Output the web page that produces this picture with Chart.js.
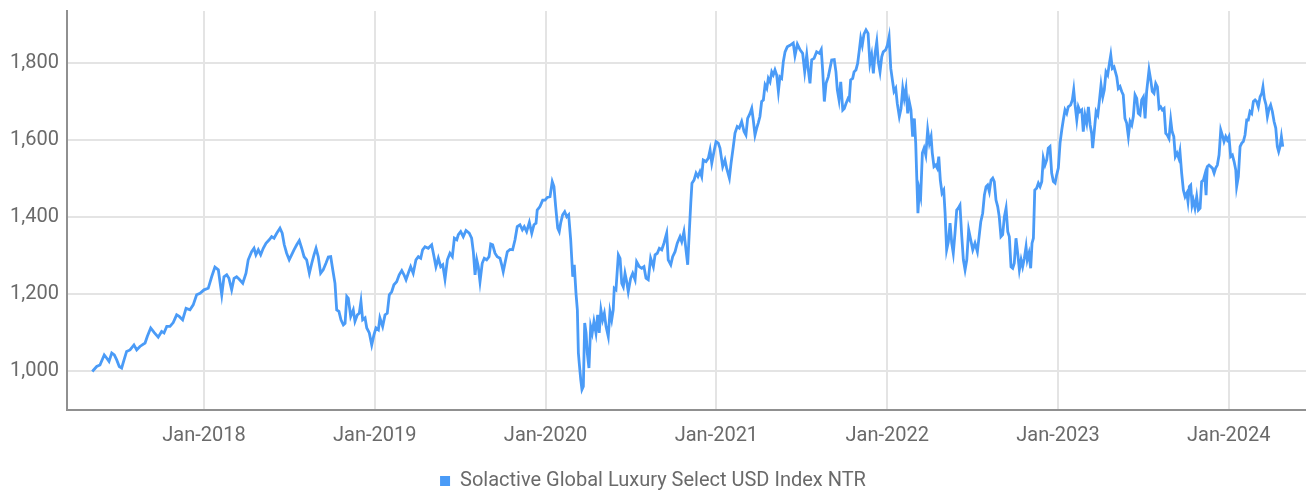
<!DOCTYPE html>
<html>
<head>
<meta charset="utf-8">
<script src="https://cdn.jsdelivr.net/npm/chart.js@4.4.1/dist/chart.umd.min.js"></script>
<style>
  html, body { margin: 0; padding: 0; background: #fff; }
</style>
</head>
<body>
<canvas id="chart" width="1306" height="495"></canvas>
<script>
const dates2017 = [2017.346,2017.372,2017.391,2017.416,2017.430,2017.444,2017.460,2017.475,2017.489,2017.504,
  2017.518,2017.532,2017.547,2017.567,2017.590,2017.606,2017.625,2017.655,2017.668,2017.688,
  2017.709,2017.732,2017.752,2017.766,2017.782,2017.801,2017.820,2017.840,2017.855,2017.875,
  2017.895,2017.918,2017.937,2017.957,2017.977];
const index2017 = [1000,1013,1017,1043,1035,1026,1048,1043,1030,1013,
  1009,1030,1052,1056,1069,1056,1065,1074,1091,1113,
  1101,1089,1104,1100,1117,1117,1127,1147,1143,1134,
  1164,1160,1173,1199,1203];

const dates2018 = [2018.000,2018.025,2018.045,2018.064,2018.084,2018.104,2018.117,2018.133,2018.146,2018.162,
  2018.176,2018.191,2018.205,2018.227,2018.246,2018.259,2018.279,2018.293,2018.304,2018.318,
  2018.332,2018.347,2018.363,2018.382,2018.396,2018.410,2018.426,2018.445,2018.458,2018.470,
  2018.484,2018.499,2018.513,2018.527,2018.543,2018.558,2018.572,2018.586,2018.601,2018.617,
  2018.631,2018.644,2018.656,2018.669,2018.683,2018.698,2018.714,2018.728,2018.742,2018.754,
  2018.767,2018.777,2018.790,2018.802,2018.816,2018.826,2018.836,2018.845,2018.859,2018.874,
  2018.884,2018.898,2018.909,2018.919,2018.929,2018.943,2018.953,2018.968,2018.982,2018.995];
const index2018 = [1212,1216,1246,1271,1264,1199,1246,1251,1242,1212,
  1242,1246,1240,1229,1255,1290,1311,1320,1303,1316,
  1303,1320,1333,1342,1350,1346,1359,1372,1359,1329,
  1307,1290,1303,1316,1329,1340,1320,1298,1290,1255,
  1281,1303,1320,1298,1255,1264,1281,1297,1298,1264,
  1229,1160,1156,1134,1121,1125,1195,1190,1143,1160,
  1130,1147,1151,1182,1134,1139,1113,1100,1069,1095];

const dates2019 = [2019.007,2019.021,2019.030,2019.046,2019.060,2019.073,2019.085,2019.099,2019.112,2019.128,
  2019.143,2019.158,2019.171,2019.183,2019.196,2019.210,2019.225,2019.241,2019.255,2019.269,
  2019.280,2019.294,2019.313,2019.333,2019.347,2019.358,2019.372,2019.386,2019.398,2019.411,
  2019.425,2019.440,2019.454,2019.466,2019.480,2019.489,2019.503,2019.518,2019.534,2019.553,
  2019.567,2019.577,2019.587,2019.597,2019.606,2019.616,2019.629,2019.641,2019.655,2019.669,
  2019.679,2019.690,2019.704,2019.717,2019.733,2019.743,2019.752,2019.762,2019.776,2019.792,
  2019.807,2019.821,2019.834,2019.850,2019.864,2019.875,2019.889,2019.905,2019.919,2019.932,
  2019.944,2019.951,2019.967,2019.983,2019.997];
const index2019 = [1113,1108,1139,1117,1147,1151,1199,1207,1225,1233,
  1251,1262,1251,1238,1255,1272,1255,1290,1298,1294,
  1316,1324,1320,1329,1298,1272,1294,1272,1277,1240,
  1290,1307,1298,1346,1342,1355,1363,1350,1366,1359,
  1346,1311,1251,1290,1272,1233,1281,1294,1290,1298,
  1331,1329,1307,1298,1294,1277,1259,1281,1311,1317,
  1316,1342,1376,1381,1368,1376,1363,1387,1359,1381,
  1385,1419,1428,1445,1445];

const dates2020 = [2020.010,2020.026,2020.039,2020.049,2020.059,2020.071,2020.080,2020.088,2020.100,2020.112,
  2020.124,2020.135,2020.147,2020.159,2020.168,2020.178,2020.186,2020.192,2020.197,2020.206,
  2020.213,2020.221,2020.229,2020.237,2020.244,2020.254,2020.264,2020.273,2020.283,2020.295,
  2020.305,2020.314,2020.324,2020.334,2020.344,2020.354,2020.367,2020.377,2020.387,2020.396,
  2020.402,2020.412,2020.426,2020.436,2020.446,2020.455,2020.465,2020.475,2020.484,2020.498,
  2020.510,2020.524,2020.533,2020.549,2020.563,2020.576,2020.588,2020.601,2020.615,2020.631,
  2020.641,2020.654,2020.666,2020.680,2020.693,2020.709,2020.718,2020.733,2020.744,2020.758,
  2020.771,2020.787,2020.797,2020.810,2020.822,2020.832,2020.841,2020.850,2020.857,2020.869,
  2020.881,2020.892,2020.904,2020.914,2020.923,2020.939,2020.953,2020.963,2020.973,2020.986,
  2020.998];
const index2020 = [1452,1454,1493,1480,1428,1372,1363,1385,1407,1415,
  1402,1407,1342,1246,1277,1203,1160,1048,1022,978,
  953,961,1126,1100,1048,1009,1117,1100,1130,1100,
  1147,1100,1160,1134,1151,1117,1091,1156,1134,1160,
  1216,1212,1303,1294,1229,1220,1255,1233,1207,1242,
  1255,1238,1285,1272,1268,1272,1242,1238,1294,1272,
  1303,1307,1320,1316,1333,1359,1290,1277,1298,1311,
  1333,1350,1337,1363,1316,1277,1359,1437,1489,1497,
  1515,1506,1519,1506,1549,1545,1554,1575,1541,1571,
  1597];

const dates2021 = [2021.011,2021.021,2021.037,2021.050,2021.060,2021.076,2021.086,2021.099,2021.109,2021.122,
  2021.134,2021.148,2021.162,2021.173,2021.183,2021.197,2021.207,2021.216,2021.226,2021.236,
  2021.245,2021.255,2021.265,2021.275,2021.285,2021.295,2021.304,2021.314,2021.324,2021.333,
  2021.343,2021.353,2021.363,2021.372,2021.382,2021.392,2021.402,2021.415,2021.431,2021.450,
  2021.460,2021.474,2021.490,2021.505,2021.517,2021.529,2021.538,2021.548,2021.558,2021.572,
  2021.587,2021.603,2021.614,2021.622,2021.632,2021.642,2021.655,2021.665,2021.675,2021.690,
  2021.700,2021.708,2021.718,2021.728,2021.740,2021.749,2021.759,2021.771,2021.778,2021.786,
  2021.798,2021.806,2021.817,2021.827,2021.837,2021.845,2021.854,2021.864,2021.876,2021.888,
  2021.899,2021.909,2021.919,2021.929,2021.939,2021.948,2021.958,2021.968,2021.977,2021.991];
const index2021 = [1593,1580,1532,1549,1528,1502,1541,1584,1619,1636,
  1632,1649,1623,1614,1657,1670,1683,1653,1614,1632,
  1645,1662,1701,1705,1744,1735,1761,1752,1778,1770,
  1783,1770,1727,1765,1761,1805,1830,1843,1847,1853,
  1820,1850,1835,1826,1778,1822,1783,1748,1809,1813,
  1830,1826,1836,1783,1701,1748,1765,1787,1809,1810,
  1778,1731,1705,1752,1679,1683,1696,1709,1705,1757,
  1761,1778,1783,1800,1835,1865,1847,1876,1887,1878,
  1800,1822,1774,1826,1856,1804,1778,1817,1830,1835];

const dates2022 = [2022.001,2022.011,2022.021,2022.032,2022.040,2022.050,2022.059,2022.071,2022.081,2022.091,
  2022.100,2022.110,2022.120,2022.129,2022.139,2022.149,2022.159,2022.167,2022.173,2022.180,
  2022.188,2022.196,2022.206,2022.216,2022.226,2022.237,2022.247,2022.257,2022.264,2022.274,
  2022.284,2022.293,2022.302,2022.311,2022.321,2022.331,2022.339,2022.348,2022.358,2022.368,
  2022.378,2022.387,2022.397,2022.407,2022.416,2022.426,2022.436,2022.446,2022.456,2022.466,
  2022.477,2022.489,2022.501,2022.514,2022.528,2022.548,2022.559,2022.569,2022.579,2022.588,
  2022.598,2022.608,2022.618,2022.627,2022.637,2022.647,2022.656,2022.666,2022.676,2022.686,
  2022.696,2022.706,2022.715,2022.725,2022.735,2022.744,2022.754,2022.764,2022.774,2022.784,
  2022.793,2022.803,2022.813,2022.820,2022.830,2022.840,2022.848,2022.856,2022.864,2022.875,
  2022.885,2022.895,2022.905,2022.914,2022.924,2022.934,2022.943,2022.953,2022.963,2022.973,
  2022.983,2022.992];
const index2022 = [1847,1869,1787,1752,1727,1735,1696,1662,1683,1735,
  1709,1735,1670,1701,1679,1610,1657,1593,1506,1411,
  1471,1454,1567,1580,1562,1627,1593,1610,1567,1532,
  1536,1528,1558,1497,1463,1471,1411,1316,1337,1385,
  1333,1307,1359,1419,1424,1432,1355,1290,1264,1290,
  1368,1342,1316,1333,1311,1389,1411,1458,1480,1484,
  1467,1497,1502,1493,1445,1428,1402,1350,1355,1402,
  1424,1363,1350,1272,1268,1281,1346,1307,1264,1290,
  1272,1294,1324,1290,1307,1268,1333,1346,1471,1476,
  1489,1480,1493,1554,1536,1549,1580,1584,1515,1493,
  1489,1510];

const dates2023 = [2023.002,2023.012,2023.022,2023.031,2023.041,2023.051,2023.060,2023.074,2023.084,2023.092,
  2023.100,2023.110,2023.119,2023.129,2023.139,2023.148,2023.158,2023.168,2023.178,2023.188,
  2023.197,2023.203,2023.213,2023.223,2023.233,2023.242,2023.252,2023.262,2023.271,2023.281,
  2023.291,2023.301,2023.309,2023.318,2023.328,2023.344,2023.353,2023.363,2023.373,2023.382,
  2023.392,2023.402,2023.412,2023.422,2023.432,2023.441,2023.451,2023.461,2023.470,2023.480,
  2023.490,2023.500,2023.510,2023.519,2023.533,2023.543,2023.552,2023.562,2023.572,2023.582,
  2023.592,2023.601,2023.611,2023.621,2023.631,2023.640,2023.650,2023.660,2023.668,2023.678,
  2023.687,2023.697,2023.707,2023.714,2023.724,2023.734,2023.744,2023.754,2023.761,2023.769,
  2023.777,2023.785,2023.792,2023.802,2023.812,2023.822,2023.832,2023.841,2023.851,2023.859,
  2023.867,2023.874,2023.884,2023.894,2023.904,2023.914,2023.923,2023.933,2023.943,2023.953,
  2023.962,2023.972,2023.982,2023.991];
const index2023 = [1528,1593,1627,1653,1679,1670,1687,1692,1705,1731,
  1692,1653,1687,1675,1679,1623,1666,1645,1687,1640,
  1618,1580,1627,1675,1666,1701,1744,1713,1731,1778,
  1770,1800,1822,1787,1791,1765,1735,1740,1727,1718,
  1657,1645,1610,1649,1640,1662,1718,1709,1670,1666,
  1705,1713,1657,1727,1783,1757,1727,1722,1748,1739,
  1683,1687,1679,1683,1618,1614,1605,1653,1623,1610,
  1558,1567,1554,1571,1515,1471,1454,1463,1441,1480,
  1484,1432,1445,1424,1454,1419,1424,1493,1497,1510,
  1458,1532,1536,1532,1528,1515,1528,1536,1562,1627,
  1614,1597,1610,1601];

const dates2024 = [2024.001,2024.011,2024.021,2024.031,2024.041,2024.046,2024.056,2024.066,2024.076,2024.085,
  2024.095,2024.105,2024.114,2024.124,2024.134,2024.144,2024.154,2024.163,2024.173,2024.183,
  2024.193,2024.200,2024.208,2024.218,2024.226,2024.236,2024.245,2024.255,2024.265,2024.275,
  2024.284,2024.292,2024.300,2024.308,2024.316];
const index2024 = [1610,1558,1562,1545,1523,1480,1506,1584,1593,1597,
  1614,1653,1653,1675,1670,1701,1705,1701,1687,1713,
  1722,1739,1709,1692,1662,1683,1692,1675,1649,1632,
  1584,1571,1584,1610,1584];

const yearTicks = [2018, 2019, 2020, 2021, 2022, 2023, 2024];
const valueTicks = [1000, 1200, 1400, 1600, 1800];
const seriesName = 'Solactive Global Luxury Select USD Index NTR';

const allDates = [].concat(dates2017, dates2018, dates2019, dates2020, dates2021, dates2022, dates2023, dates2024);
const allValues = [].concat(index2017, index2018, index2019, index2020, index2021, index2022, index2023, index2024);
const points = allDates.map((d, i) => ({ x: d, y: allValues[i] }));

const LINE_BLUE = '#4a9bf7';
const TEXT_GREY = '#6a6a6a';
const GRID_GREY = '#e4e4e4';
const AXIS_GREY = '#909090';

Chart.defaults.font.family = "Roboto, 'Liberation Sans', sans-serif";
Chart.defaults.font.size = 20;
Chart.defaults.color = TEXT_GREY;

// no extra room for the outer tick labels: the plot area is placed by hand
function noEdgePadding(scale) {
    scale.paddingTop = 0;
    scale.paddingBottom = 0;
    scale.paddingLeft = 0;
    scale.paddingRight = 0;
}

new Chart(document.getElementById('chart'), {
    type: 'line',
    data: {
        datasets: [{
            label: seriesName,
            data: points,
            borderColor: LINE_BLUE,
            backgroundColor: LINE_BLUE,
            borderWidth: 2.8,
            pointRadius: 0,
            tension: 0,
            fill: false
        }]
    },
    options: {
        responsive: false,
        animation: false,
        layout: { padding: { top: 11, right: 0, bottom: -6, left: 0 } },
        plugins: {
            tooltip: { enabled: false },
            legend: {
                position: 'bottom',
                labels: {
                    boxWidth: 10,
                    boxHeight: 10,
                    padding: 10,
                    color: TEXT_GREY,
                    generateLabels: function(chart) {
                        const items = Chart.defaults.plugins.legend.labels.generateLabels(chart);
                        return items.map(it => Object.assign(it, { lineWidth: 0 }));
                    }
                }
            }
        },
        scales: {
            x: {
                type: 'linear',
                min: 2017.198,
                max: 2024.452,
                afterBuildTicks: function(scale) {
                    scale.ticks = yearTicks.map(v => ({ value: v }));
                },
                afterFit: function(scale) {
                    scale.height = 51;
                    noEdgePadding(scale);
                },
                ticks: {
                    padding: 14,
                    maxRotation: 0,
                    autoSkip: false,
                    callback: function(value) { return 'Jan-' + value; }
                },
                grid: { color: GRID_GREY, lineWidth: 2, drawTicks: false },
                border: { color: AXIS_GREY, width: 2 }
            },
            y: {
                min: 900,
                max: 1936,
                afterBuildTicks: function(scale) {
                    scale.ticks = valueTicks.map(v => ({ value: v }));
                },
                afterFit: function(scale) {
                    scale.width = 67;
                    noEdgePadding(scale);
                },
                ticks: {
                    padding: 8,
                    callback: function(value) { return value.toLocaleString('en-US'); }
                },
                grid: { color: GRID_GREY, lineWidth: 2, drawTicks: false },
                border: { color: AXIS_GREY, width: 2 }
            }
        }
    }
});
</script>
</body>
</html>
